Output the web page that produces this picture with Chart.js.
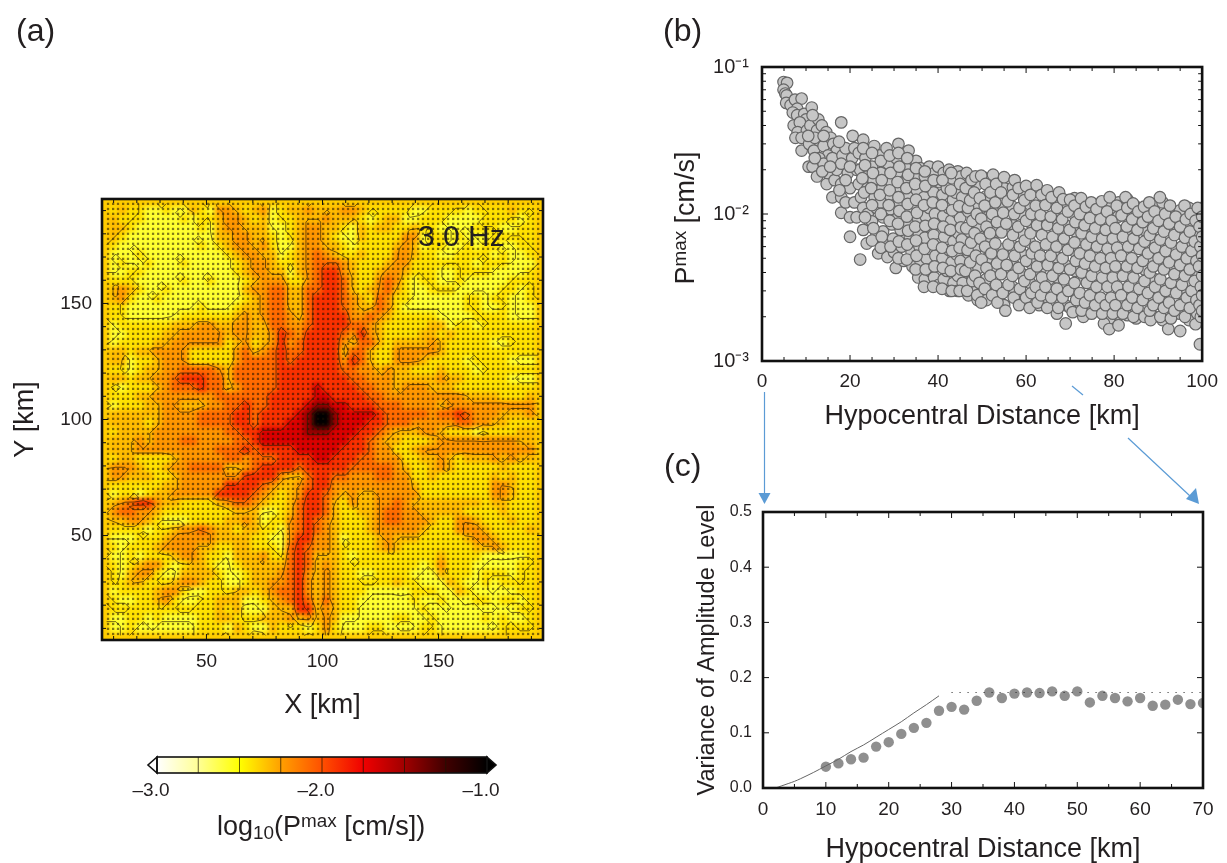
<!DOCTYPE html>
<html>
<head>
<meta charset="utf-8">
<script src="https://cdn.jsdelivr.net/npm/chart.js@4"></script>
<style>
  html, body { margin: 0; padding: 0; background: #fff; }
  body { width: 1227px; height: 863px; position: relative; overflow: hidden; font-family: "Liberation Sans", sans-serif; color: #231f20; }
  canvas { position: absolute; display: block; }
  .txt { position: absolute; white-space: nowrap; line-height: 1; }
  .txt sup { font-size: 70%; vertical-align: 0.42em; line-height: 0; }
  .txt sub { font-size: 70%; vertical-align: -0.2em; line-height: 0; }
  #heatWrap { position: absolute; left: 102px; top: 199px; width: 441px; height: 441px; overflow: hidden; background: #ffcc00; }
  #heatCanvas { left: 0; top: 0; filter: blur(2.5px); }
  #arrows { position: absolute; left: 0; top: 0; }
</style>
</head>
<body>
<div id="heatWrap"><canvas id="heatCanvas" width="441" height="441"></canvas></div>
<canvas id="mapCanvas" width="600" height="730" style="left:0;top:0"></canvas>
<canvas id="barCanvas" width="400" height="70" style="left:120px;top:740px"></canvas>
<canvas id="ampCanvas" width="577" height="440" style="left:650px;top:0"></canvas>
<canvas id="varCanvas" width="577" height="396" style="left:650px;top:470px"></canvas>

<svg id="arrows" width="1227" height="863">
  <g stroke="#5b9bd5" stroke-width="1.2" fill="none">
    <line x1="764.5" y1="392" x2="764.5" y2="494"/>
    <line x1="1072" y1="386" x2="1083" y2="395"/>
    <line x1="1128" y1="438" x2="1190" y2="496"/>
  </g>
  <g fill="#5b9bd5">
    <polygon points="758.5,493 770.5,493 764.5,504"/>
    <polygon points="1186,499 1196,488 1199,504"/>
  </g>
</svg>

<div class="txt" style="left:16px;top:14px;font-size:32px">(a)</div>
<div class="txt" style="left:663px;top:14px;font-size:32px">(b)</div>
<div class="txt" style="left:664px;top:449px;font-size:32px">(c)</div>
<div class="txt" style="left:418px;top:221px;font-size:30px">3.0 Hz</div>
<div class="txt" style="left:217px;top:813px;font-size:27px">log<sub>10</sub>(P<sup>max</sup> [cm/s])</div>
<div class="txt" id="pmaxTitle" style="left:685px;top:218px;font-size:27px;transform:translate(-50%,-50%) rotate(-90deg)">P<sup>max</sup> [cm/s]</div>

<script>
// panel (a): map levels, 48 x 48 cells, top row first
// digit = colour class, see levelLog10
const mapRows = [
  "23221121 13214432 34123343 33443222 22112222 12222322",
  "32221111 21223443 23122333 43332123 31122211 11222212",
  "33211111 11213443 33112344 33213233 22322111 12221122",
  "32111111 11113344 33212344 32113222 24412212 11122222",
  "21111111 11212344 34211344 33212222 34312211 21221122",
  "11121111 11111234 43312345 43223222 44322112 22212112",
  "12112111 21111123 44322345 55432223 44222222 21222111",
  "11221111 11111123 44331345 66432234 43222112 22211112",
  "22211111 21121112 34442245 66532245 42122112 11111222",
  "34321121 11111113 44553355 66532345 32112221 11112212",
  "34211211 11111112 34553356 66543254 22111111 22122112",
  "22111111 11211123 34553356 66543354 21111111 22112111",
  "22111111 22222234 34554356 66644543 22222111 12222111",
  "12222223 33443344 33554456 66655432 22223312 21222222",
  "11222233 44444344 33465466 66546432 22233232 22222222",
  "12222334 44444234 23464566 66435532 33334322 22211222",
  "33233444 42222245 34565566 66355322 44444322 22222222",
  "33122344 42222245 55565666 66465322 44432222 12222111",
  "22123344 55554355 55566666 66554434 33222322 21222222",
  "33233445 66655355 55566666 66655444 33333433 22222111",
  "21222345 55655345 55566667 66665544 34443332 22222222",
  "22233444 44445555 55666667 76666554 44444444 33332223",
  "12223344 33344556 55666678 87766655 54444344 44444444",
  "33333344 44555566 5666678a a8777765 55554556 54443334",
  "33332344 44555566 5666778a a8777665 55444445 54433222",
  "23333444 44444556 67777788 87776654 33344322 21222233",
  "33343444 55444455 67777777 77766543 32223444 44444433",
  "33344444 44445556 56666777 77666544 22344444 44444444",
  "23322223 44444554 55566667 76665544 42233432 33343433",
  "44432234 45555334 56666566 66655555 43223432 22223222",
  "44333223 44444446 66643356 65544455 44223222 22232322",
  "22222233 44444666 65433456 64444444 44322222 22244322",
  "12212334 44446666 54323466 54343344 44422222 22244322",
  "34566433 22223455 43223566 53243344 54333333 33233222",
  "45544322 22222233 31123566 53223345 54433333 22223222",
  "33443211 12222334 31224565 43222345 54443224 43222322",
  "22221223 44543323 32214565 43222344 44432224 44322223",
  "11122234 44443333 22114664 43122234 33322222 34432222",
  "21222344 44332233 22215654 43222234 32222222 23343222",
  "11212223 44322133 34225653 33212222 22222322 22111112",
  "21234421 23321123 33335653 43222222 22212422 21111122",
  "21344211 33332112 33345643 43221122 22111322 21222122",
  "22332223 44322112 33445643 43222222 32211132 11212222",
  "12222344 21122233 23455643 43222111 11222113 21111122",
  "21122342 11223331 12345653 53221111 11211211 12212212",
  "22222222 22223231 11333663 43221111 11121111 11111122",
  "11221211 11223322 23334343 43111111 22112111 11212112",
  "11211111 11222132 11322212 42111221 11122111 11112222"
];
const levelLog10 = [-2.8, -2.58, -2.42, -2.32, -2.22, -2.08, -1.9, -1.68, -1.47, -1.22, -1.0];
const contourLevels = [-2.5, -2.25, -2.0, -1.75, -1.5, -1.25];
const stationKm = [7.6,9.8,11.9,14.1,16.2,18.4,20.5,22.7,24.8,27,29.2,31.3,33.5,35.6,37.8,39.9,42.1,44.2,46.4,48.5,50.7,52.9,55,57.2,59.3,61.5,63.6,65.8,67.9,70.1,72.2,74.4,76.6,78.7,80.9,83,85.2,87.3,89.5,91.6,93.8,95.9,98.1,100.3,102.4,104.6,106.7,108.9,111,113.2,115.3,117.5,119.6,121.8,123.9,126.1,128.3,130.4,132.6,134.7,136.9,139,141.2,143.3,145.5,147.6,149.8,152,154.1,156.3,158.4,160.6,162.7,164.9,167,169.2,171.3,173.5,175.7,177.8,180,182.1,184.3,186.4,188.6,190.7,192.9];
const mapTicks = [50, 100, 150];
const mapMinorTicks = [10,20,30,40,60,70,80,90,110,120,130,140,160,170,180,190];

// colour bar
const barLabels = [-3, -2, -1];
const barDividers = [-2.75, -2.5, -2.25, -2, -1.75, -1.5, -1.25];
const colourStops = [
  [-3.0, [255,255,255]], [-2.75, [255,255,150]], [-2.5, [255,255,0]], [-2.25, [255,160,0]],
  [-2.0, [255,80,0]], [-1.75, [240,0,0]], [-1.5, [160,0,0]], [-1.25, [64,0,0]], [-1.0, [0,0,0]]
];

// panel (b): distance [km], Pmax [10^-3 cm/s]
const ampNear = [
  [4.9,79],[5.7,78],[4.9,70],[5.3,66],[5.6,64],[5.5,57],[6.5,55],[7.5,60],[9,61],[8,52],[7,49],[8,47],[7.2,40],[9.6,48],[10,44],
  [11.3,53],[8.6,42],[8.1,36],[7.6,33],[10.2,37],[9,33],[11,40],[12.5,37],[12.8,44],[13.6,40],[14.6,36],[13,31],[9,27],[10.7,30],
  [11.8,27],[12,33],[14,29],[15.6,33],[16.2,30],[18,42],[17,27],[15,25],[10.6,21],[11.5,21],[13,24],[14,22],[16,24],[18.3,25],
  [12.5,18],[14.7,16],[15,19],[16,13],[16.5,17],[17,20],[18,22],[19,28],[20.6,34],[19.5,19],[18,16],[18,13],[18,10.2],[20,9.5],
  [19,12],[20,15],[20.5,24],[21.5,20],[21,28],[21,12],[20,7],[21.5,9.5]
];
const ampMid = [
  [22,26],[22.3,20],[22,16],[22.5,13],[23,11],[22.3,4.9],[23,32],[23.8,6.3],[23.5,24],[23.8,18],[24,15],[24,10],[24.5,8.4],[25.5,29],
  [25,21],[25.3,17],[25.6,13],[26,11],[25,8.9],[26.4,5.4],[26,7.2],[26.8,25],[27,19],[27.3,15],[27,12],[27.5,9.5],[27.5,7.6],[28.3,28],
  [28.5,5.1],[28,6.4],[28.7,22],[29,17],[29,13.5],[29.2,10.8],[29.5,8.5],[29.8,6.8],[30.4,4.3],[30,5.5],[31,30],[30.5,24],[31,19.5],
  [31,15.5],[31.2,12],[31,9.6],[31.5,7.8],[31.7,6],[32.2,4.8],[33.3,27],[32.5,21],[33,17],[33,13.5],[33,10.8],[33.4,8.6],[33.6,7],
  [34,5.5],[34.2,4.4],[35,23],[35,18],[35.2,14.5],[35,11.5],[35.5,9.2],[35.6,7.4],[35.8,6],[35.5,3.7],[36,4.8],[36,20.5],
  [37,18],[36.8,13],[37.2,9.6],[37,6.9],[37.4,5],[37,3.6],[38,21],[38.3,15.5],[38,11],[38.4,8],[37.8,5.8],[38.2,4.1],[39.2,19],[39,14],
  [39.3,10],[39,7.2],[39.4,5.2],[39.1,3.7],[40,21],[40.3,16.5],[40,12],[40.4,8.6],[40.1,6.2],[40.4,4.5],[40.2,3.3],[41.3,19],[41,13.5],
  [41.2,9.7],[41.4,7],[41,5],[41.3,3.6],[42.5,20],[42,15],[42.4,11],[42.2,8],[42.5,5.7],[42,4.1],[42.6,3],[43.2,17.5],[43.4,12.5],[43,9],
  [43.5,6.5],[43.1,4.7],[43.5,3.4],[44.5,19.5],[44,14],[44.3,10.2],[44.6,7.4],[44.2,5.3],[44.5,3.8],[44.5,3],[45.2,18],[45.5,13],[45,9.4],
  [45.4,6.7],[45.1,4.8],[45.6,3.4]
];
const ampFar = [
  [46.5,19],[46.3,15],[46.8,11],[46.4,8],[46.7,5.7],[46.2,4.1],[46.6,3],[47.6,17],[47.3,12.4],[47.8,9],[47.5,6.4],[47.3,4.7],[47.8,3.5],
  [48.5,18],[48.2,14],[48.8,10],[48.3,7.4],[48.6,5.2],[48.4,3.8],[48.9,2.8],[49.8,18.2],[49.5,12.8],[49.8,9.3],[49.6,6.8],[49.9,4.9],[49.4,3.4],[49.8,2.5],
  [50.8,16],[50.6,11.4],[51,8.2],[50.7,6],[51,4.3],[50.6,3.1],[52.5,18.5],[51.9,14],[52.3,10],[51.8,7.4],[52.1,5.4],[51.9,3.8],[52.3,2.8],
  [53.2,16],[53,12],[53.4,8.8],[53,6.3],[53.4,4.6],[53.2,3.3],[53.5,2.5],[55,17.8],[54.3,14],[54.8,10.2],[54.4,7.5],[54.7,5.3],[54.3,3.9],[54.7,2.9],
  [55.3,2.2],[55.8,12.2],[55.5,8.6],[56,6.2],[55.6,4.5],[56,3.3],[57.4,17],[57,13.5],[57.3,10],[57,7.2],[57.4,5.2],[56.9,3.8],[57.2,2.7],
  [58.3,15],[58.5,11],[58.2,8.2],[58.6,6],[58.3,4.3],[58.6,3.1],[58.4,2.4],[60,15.5],[59.6,12.4],[60,9],[59.7,6.6],[60,4.8],[59.6,3.5],[60,2.7],
  [60.8,2.3],[61,13.5],[61.2,10],[61,7.4],[61.3,5.4],[60.9,3.9],[61.2,2.9],[62.4,15.7],[62.2,11.4],[62.5,8.4],[62.1,6],[62.5,4.4],[62.2,3.2],[62.6,2.5],
  [63.5,13.5],[63.3,9.8],[63.6,7.2],[63.2,5.2],[63.6,3.7],[63.4,2.8],[64.8,14.5],[64.4,11.5],[64.8,8.4],[64.5,6.2],[64.9,4.5],[64.4,3.2],[64.8,2.3],
  [65.8,13],[65.6,9.6],[66,7],[65.6,5.2],[66,3.8],[65.7,2.7],[67.5,14],[67,11],[67.3,8],[66.9,6],[67.4,4.3],[67,3.1],[67.3,2.3],
  [68.4,12.6],[68.2,9.2],[68.6,6.8],[68.3,5],[68.6,3.6],[68.3,2.7],[69,1.8],[70,12.5],[69.5,10.4],[69.9,7.8],[69.5,5.7],[70,4.2],[69.6,3],[70,2.3],
  [70.6,2.15],[71,11.4],[71.2,8.8],[71,6.4],[71.3,4.8],[71,3.4],[71.4,2.6],[72.5,12.8],[72.2,10],[72.6,7.4],[72.2,5.4],[72.6,4],[72.2,2.9],[72.6,2.2],
  [73.6,11.2],[73.3,8.4],[73.7,6.2],[73.4,4.6],[73.8,3.4],[73.4,2.5],[74.8,12],[74.5,9.4],[74.9,7],[74.5,5.2],[74.9,3.8],[74.5,2.8],[74.9,2.1],
  [76,10.8],[75.7,8],[76.1,6],[75.7,4.4],[76,3.2],[75.7,2.4],[77.2,12.2],[76.9,9.2],[77.3,6.8],[76.9,5],[77.3,3.7],[76.9,2.7],[77.7,1.8],[77.3,2.1],
  [78.4,10.4],[78.1,7.8],[78.5,5.8],[78.1,4.3],[78.5,3.2],[78.1,2.4],[79,13],[79.4,9],[79.7,6.8],[79.3,5],[79.7,3.7],[79.3,2.7],[78.9,1.65],[79.7,2.1],
  [80.6,11.4],[80.3,8],[80.7,5.9],[80.3,4.4],[80.7,3.2],[80.3,2.4],[81,1.75],[82.6,13],[81.7,9.8],[82,7],[81.6,5.2],[82,3.8],[81.6,2.8],[82,2.1],
  [83,11],[82.9,8.2],[83.2,6],[82.9,4.4],[83.3,3.2],[83,2.4],[84.3,11.8],[84.1,9.2],[84.4,6.8],[84,5],[84.4,3.7],[84.1,2.7],[84.4,2],
  [85.5,10.4],[85.3,7.8],[85.7,5.8],[85.3,4.3],[85.7,3.1],[85.3,2.3],[86.8,11.2],[86.5,8.8],[86.9,6.5],[86.5,4.8],[86.9,3.5],[86.5,2.6],[86.9,2],
  [88,12],[87.7,9.6],[88.1,7.2],[87.7,5.4],[88.1,4],[87.7,2.9],[88.3,1.9],[88.1,2.2],[89.2,10.4],[88.9,8],[89.3,5.9],[88.9,4.4],[89.3,3.2],[88.9,2.4],
  [90.4,13],[90.1,9],[90.5,6.7],[90.1,5],[90.5,3.6],[90.1,2.7],[90.5,2],[91.6,10],[91.3,7.6],[91.7,5.6],[91.3,4.2],[91.7,3],[91.3,2.3],[92.3,1.65],
  [92.7,11.4],[92.5,8.6],[92.9,6.4],[92.5,4.7],[92.9,3.4],[92.5,2.5],[92.9,1.95],[94,9.6],[93.7,7.2],[94.1,5.3],[93.7,3.9],[94.1,2.9],[93.7,2.2],
  [96,11.4],[95,8.2],[95.4,6],[95,4.5],[95.4,3.3],[95,2.4],[95,1.6],[96.3,9.2],[96.1,6.9],[96.5,5],[96.1,3.8],[96.5,2.7],[96.1,2],
  [97.4,10],[97.2,7.6],[97.6,5.6],[97.2,4.2],[97.6,3],[97.2,2.3],[98.5,9],[98.3,6.5],[98.7,4.8],[98.3,3.5],[98.7,2.6],[98.5,1.78],
  [99,11],[99.4,8.2],[99.6,6],[99.3,4.4],[99.7,3.2],[99.4,2.4],[99.7,2],[99.5,1.3],[100,9.6],[100,7],[100,5.2],[100,3.8],[100,2.8],[100,2.2]
];
const ampDense = [
  [10.5,34],[12,24],[13.7,19.5],[15.5,21],[17.6,14.5],[19,17],[20,21],[17.5,31],[14,34],[11.5,47],
  [23,28],[23.4,21.5],[22.8,17.5],[23.2,14],[23.4,9.5],[23,7.8],[25,26],[25.2,19],[24.8,15],[25,11.5],[25.3,8],[25,6.6],
  [27,23],[27.2,17],[26.8,13.5],[27,10],[27.2,7],[27,5.9],[29,25],[29.2,19],[29,14.5],[28.8,11.5],[29,9],[29.2,6],
  [31,26],[31.2,21],[30.8,16.5],[31,13],[31.2,10.5],[30.9,8.6],[31.1,6.5],[31,5],[33,24],[33.2,18.5],[32.8,15],[33.1,11.7],[32.9,9.6],[33.2,7.7],[33,6.2],[32.9,4.9],
  [35,20.5],[34.8,16],[35,12.5],[35.2,10.2],[34.8,8.2],[35,6.6],[35.1,5.2],[34.9,4.2],[37,19.5],[37.1,15.5],[36.8,11.5],[37.1,8.3],[36.9,5.8],[37.2,4.2],[36.8,3.2],
  [39,17],[38.8,12],[39.1,8.6],[38.9,6.2],[39.2,4.4],[38.9,3.2],[41,17],[40.9,11.5],[41.2,8.2],[40.9,5.9],[41.1,4.3],[40.9,3.1],
  [43,19],[42.9,14.5],[43.2,10.6],[42.8,7.8],[43.2,5.6],[42.9,4.1],[43.1,3],[45,16],[44.8,11.3],[45.2,8.1],[44.9,5.9],[45.2,4.2],[44.9,3],
  [47,15],[46.9,10.4],[47.2,7.6],[46.9,5.4],[47.2,4],[46.9,2.8],[49,16],[48.9,11.2],[49.2,8.2],[48.9,6],[49.2,4.3],[48.9,3.1],[49,2.6],
  [51,17.5],[50.9,13.2],[51.2,9.5],[50.9,6.9],[51.2,5],[50.9,3.6],[51,2.6],[53,14.5],[52.9,10.8],[53.2,7.6],[52.9,5.6],[53.2,4.1],[52.9,2.9],
  [55,15],[54.9,11],[55.2,8],[54.9,5.8],[55.2,4.2],[54.9,3.1],[55,2.4],[57,15.2],[56.9,11.2],[57.2,8.4],[56.9,6.1],[57.2,4.5],[56.9,3.2],
  [59,14],[58.9,10],[59.2,7.3],[58.9,5.4],[59.2,3.9],[58.9,2.8],[61,14.8],[60.9,11.6],[61.2,8.6],[60.9,6.4],[61.2,4.6],[60.9,3.4],[61,2.5],
  [63,14.5],[62.9,10.6],[63.2,7.8],[62.9,5.7],[63.2,4.1],[62.9,3],[63,2.4],[65,12.8],[64.9,9.2],[65.2,6.8],[64.9,5],[65.2,3.6],[64.9,2.7],
  [67,12.4],[66.9,9.4],[67.2,7],[66.9,5.1],[67.2,3.7],[66.9,2.7],[67,2.1],[69,11.4],[68.9,8.4],[69.2,6.2],[68.9,4.5],[69.2,3.3],[68.9,2.4],
  [71,12.8],[70.9,10],[71.2,7.6],[70.9,5.6],[71.2,4.1],[70.9,3],[71,2.3],[73,11.6],[72.9,9],[73.2,6.6],[72.9,4.9],[73.2,3.6],[72.9,2.6],[73,2],
  [75,10.6],[74.9,8.2],[75.2,6],[74.9,4.4],[75.2,3.2],[74.9,2.4],[77,11],[76.9,8.4],[77.2,6.2],[76.9,4.6],[77.2,3.4],[76.9,2.4],
  [79,11.6],[78.9,8.8],[79.2,6.4],[78.9,4.7],[79.2,3.5],[78.9,2.5],[79,1.95],[81,12],[80.9,9.6],[81.2,7.2],[80.9,5.3],[81.2,3.9],[80.9,2.8],[81,2.05],
  [83,12.6],[82.9,9.6],[83.2,7],[82.9,5.2],[83.2,3.8],[82.9,2.8],[83,2.05],[85,11.2],[84.9,8.6],[85.2,6.4],[84.9,4.7],[85.2,3.4],[84.9,2.5],[85,1.95],
  [87,10],[86.9,7.8],[87.2,5.7],[86.9,4.2],[87.2,3.1],[86.9,2.3],[89,11.6],[88.9,9],[89.2,6.7],[88.9,5],[89.2,3.6],[88.9,2.7],[89,2],
  [91,12],[90.9,8.4],[91.2,6.2],[90.9,4.6],[91.2,3.3],[90.9,2.5],[91,1.9],[93,10.2],[92.9,7.8],[93.2,5.8],[92.9,4.3],[93.2,3.1],[92.9,2.3],
  [95,10.6],[94.9,7.4],[95.2,5.4],[94.9,3.9],[95.2,2.9],[94.9,2.1],[97,11],[96.9,8.6],[97.2,6.2],[96.9,4.6],[97.2,3.4],[96.9,2.5],[97,1.9],
  [99,9.6],[98.9,7.2],[99.2,5.3],[98.9,3.9],[99.2,2.9],[98.9,2.1],[100,11],[100,8.2],[100,6],[100,4.4],[100,3.2],[100,2.4],[100,1.9]
];
const ampXTicks = [0, 20, 40, 60, 80, 100];
const ampXMinor = [5,10,15,25,30,35,45,50,55,65,70,75,85,90,95];
const ampYTicks = [0.001, 0.01, 0.1];
const ampYMinor = [0.002,0.003,0.004,0.005,0.006,0.007,0.008,0.009,0.02,0.03,0.04,0.05,0.06,0.07,0.08,0.09];
const ampYLabels = { 0.001: "10\u207B\u00B3", 0.01: "10\u207B\u00B2", 0.1: "10\u207B\u00B9" };

// panel (c)
const varDist = [10,12,14,16,18,20,22,24,26,28,30,32,34,36,38,40,42,44,46,48,50,52,54,56,58,60,62,64,66,68,70];
const varValue = [0.0386,0.0446,0.052,0.055,0.075,0.083,0.098,0.109,0.118,0.14,0.147,0.142,0.158,0.173,0.163,0.171,0.173,0.172,0.175,0.167,0.175,0.155,0.167,0.163,0.157,0.163,0.149,0.151,0.16,0.152,0.154];
const modelDist = [2,3,4,5,6,8,10,12,14,16,18,20,22,24,26,28];
const modelValue = [0,0.004,0.008,0.012,0.017,0.028,0.04,0.052,0.066,0.078,0.092,0.106,0.12,0.136,0.151,0.167];
const plateauDist = [30, 70];
const plateauValue = [0.173, 0.173];
const varXTicks = [0,10,20,30,40,50,60,70];
const varXMinor = [5,15,25,35,45,55,65];
const varYTicks = [0,0.1,0.2,0.3,0.4,0.5];

Chart.defaults.font.family = '"Liberation Sans", sans-serif';
Chart.defaults.color = '#231f20';
Chart.defaults.animation = false;

const axisTitle = (text, size) => ({ display: true, text: text, padding: 0, color: '#231f20', font: { size: size, lineHeight: 1.2 } });
const noGrid = { display: false, drawTicks: false };

// fixed ticks so the labels land only where the picture has them
const useTicks = list => scale => { scale.ticks = list.map(v => ({ value: v })); };

function pairs(xs, ys) { return xs.map((x, i) => ({ x: x, y: ys[i] })); }

function colourOf(v) {
  for (let i = 1; i < colourStops.length; i++) {
    if (v <= colourStops[i][0]) {
      const a = colourStops[i - 1], b = colourStops[i];
      const t = (v - a[0]) / (b[0] - a[0]);
      const c = a[1].map((n, k) => Math.round(n + (b[1][k] - n) * t));
      return 'rgb(' + c.join(',') + ')';
    }
  }
  return '#000';
}

// frame and inward ticks on all four sides
const frameTicks = {
  id: 'frameTicks',
  afterDatasetsDraw(chart, args, o) {
    const { ctx, chartArea: a, scales } = chart;
    ctx.save();
    ctx.strokeStyle = '#111';
    const xMark = (list, len) => list.forEach(v => {
      const p = scales.x.getPixelForValue(v);
      ctx.beginPath();
      ctx.moveTo(p, a.bottom); ctx.lineTo(p, a.bottom - len);
      ctx.moveTo(p, a.top); ctx.lineTo(p, a.top + len);
      ctx.stroke();
    });
    const yMark = (list, len) => list.forEach(v => {
      const p = scales.y.getPixelForValue(v);
      ctx.beginPath();
      ctx.moveTo(a.left, p); ctx.lineTo(a.left + len, p);
      ctx.moveTo(a.right, p); ctx.lineTo(a.right - len, p);
      ctx.stroke();
    });
    ctx.lineWidth = 1;
    xMark(o.xMajor || [], 6); xMark(o.xMinor || [], 4);
    yMark(o.yMajor || [], 6); yMark(o.yMinor || [], 4);
    ctx.lineWidth = 2.6;
    ctx.strokeRect(a.left, a.top, a.right - a.left, a.bottom - a.top);
    ctx.restore();
  }
};

// --- panel (a) ---
const grid = mapRows.map(r => r.replace(/ /g, '').split('').map(ch => levelLog10[parseInt(ch, 16)]));
const nCols = grid[0].length, nRows = grid.length;
const cellX = c => 5 + (c + 0.5) * 190 / nCols;
const cellY = r => 195 - (r + 0.5) * 190 / nRows;

const heatCells = [];
const heatColours = [];
grid.forEach((row, r) => row.forEach((v, c) => {
  heatCells.push({ x: cellX(c), y: cellY(r) });
  heatColours.push(colourOf(v));
}));

new Chart(document.getElementById('heatCanvas'), {
  type: 'scatter',
  data: { datasets: [{ data: heatCells, pointStyle: 'rect', pointRadius: 7.6, borderWidth: 0, backgroundColor: heatColours }] },
  options: {
    responsive: false,
    plugins: { legend: { display: false }, tooltip: { enabled: false } },
    scales: {
      x: { display: false, min: 5, max: 195 },
      y: { display: false, min: 5, max: 195 }
    }
  }
});

// contour segments traced over the level grid (marching squares)
function contourSegments(level) {
  const out = [];
  const gap = { x: NaN, y: NaN };
  const cross = (c1, r1, c2, r2) => {
    const a = grid[r1][c1], b = grid[r2][c2];
    const t = (level - a) / (b - a);
    return { x: cellX(c1 + (c2 - c1) * t), y: cellY(r1 + (r2 - r1) * t) };
  };
  for (let r = 0; r < nRows - 1; r++) {
    for (let c = 0; c < nCols - 1; c++) {
      const hits = [];
      const tl = grid[r][c], tr = grid[r][c + 1], br = grid[r + 1][c + 1], bl = grid[r + 1][c];
      if ((tl < level) !== (tr < level)) hits.push(cross(c, r, c + 1, r));
      if ((tr < level) !== (br < level)) hits.push(cross(c + 1, r, c + 1, r + 1));
      if ((bl < level) !== (br < level)) hits.push(cross(c, r + 1, c + 1, r + 1));
      if ((tl < level) !== (bl < level)) hits.push(cross(c, r, c, r + 1));
      for (let i = 0; i + 1 < hits.length; i += 2) out.push(hits[i], hits[i + 1], gap);
    }
  }
  return out;
}

const stations = [];
stationKm.forEach(y => stationKm.forEach(x => stations.push({ x: x, y: y })));

new Chart(document.getElementById('mapCanvas'), {
  type: 'scatter',
  data: {
    datasets: contourLevels.map(l => ({
      data: contourSegments(l),
      showLine: true,
      spanGaps: false,
      pointRadius: 0,
      borderColor: 'rgba(45,30,0,0.72)',
      borderWidth: 0.9,
      borderDash: [100, 0] // keeps chart.js off its x-sorted fast path
    })).concat([{
      data: stations,
      pointStyle: 'rect',
      pointRadius: 1.6,
      borderWidth: 0,
      backgroundColor: 'rgba(25,15,0,0.55)'
    }])
  },
  plugins: [frameTicks],
  options: {
    responsive: false,
    layout: { padding: { left: 9, top: 199, right: 57, bottom: 8 } },
    plugins: {
      legend: { display: false }, tooltip: { enabled: false },
      frameTicks: { xMajor: mapTicks, xMinor: mapMinorTicks, yMajor: mapTicks, yMinor: mapMinorTicks }
    },
    scales: {
      x: {
        type: 'linear', min: 5, max: 195,
        afterBuildTicks: useTicks(mapTicks), afterFit: s => { s.height = 82; },
        grid: noGrid, border: { display: false },
        ticks: { font: { size: 19 }, padding: 10, maxRotation: 0, autoSkip: false },
        title: axisTitle('X [km]', 27)
      },
      y: {
        type: 'linear', min: 5, max: 195,
        afterBuildTicks: useTicks(mapTicks), afterFit: s => { s.width = 93; },
        grid: noGrid, border: { display: false },
        ticks: { font: { size: 19 }, padding: 10, autoSkip: false },
        title: axisTitle('Y [km]', 27)
      }
    }
  }
});

// --- colour bar ---
const barEnds = {
  id: 'barEnds',
  afterDatasetsDraw(chart) {
    const { ctx, chartArea: a, scales } = chart;
    const mid = (a.top + a.bottom) / 2;
    ctx.save();
    ctx.lineWidth = 1.6;
    ctx.strokeStyle = '#111';
    ctx.fillStyle = '#fff';
    ctx.beginPath();
    ctx.moveTo(a.left, a.top); ctx.lineTo(a.left - 9, mid); ctx.lineTo(a.left, a.bottom); ctx.closePath();
    ctx.fill(); ctx.stroke();
    ctx.fillStyle = '#000';
    ctx.beginPath();
    ctx.moveTo(a.right, a.top); ctx.lineTo(a.right + 9, mid); ctx.lineTo(a.right, a.bottom); ctx.closePath();
    ctx.fill(); ctx.stroke();
    ctx.strokeStyle = 'rgba(30,20,0,0.7)';
    ctx.lineWidth = 1;
    barDividers.forEach(v => {
      const p = scales.x.getPixelForValue(v);
      ctx.beginPath(); ctx.moveTo(p, a.top); ctx.lineTo(p, a.bottom); ctx.stroke();
    });
    ctx.strokeStyle = '#111';
    ctx.lineWidth = 1.6;
    ctx.strokeRect(a.left, a.top, a.right - a.left, a.bottom - a.top);
    ctx.restore();
  }
};

new Chart(document.getElementById('barCanvas'), {
  type: 'bar',
  data: {
    labels: ['level'],
    datasets: [{
      data: [[barLabels[0], barLabels[2]]],
      barPercentage: 1,
      categoryPercentage: 1,
      backgroundColor: c => {
        const area = c.chart.chartArea;
        if (!area) return '#ff0';
        const g = c.chart.ctx.createLinearGradient(area.left, 0, area.right, 0);
        colourStops.forEach(s => g.addColorStop((s[0] + 3) / 2, 'rgb(' + s[1].join(',') + ')'));
        return g;
      }
    }]
  },
  plugins: [barEnds],
  options: {
    indexAxis: 'y',
    responsive: false,
    layout: { padding: { left: 37, top: 17, right: 33, bottom: 0 } },
    plugins: { legend: { display: false }, tooltip: { enabled: false } },
    scales: {
      x: {
        type: 'linear', min: -3, max: -1,
        afterBuildTicks: useTicks(barLabels), afterFit: s => { s.height = 37; },
        grid: noGrid, border: { display: false },
        ticks: { font: { size: 19 }, padding: 6, labelOffset: -6, maxRotation: 0, autoSkip: false, callback: v => '\u2013' + Math.abs(v).toFixed(1) }
      },
      y: { display: false }
    }
  }
});

// --- panel (b) ---
const ampPoints = ampNear.concat(ampMid, ampDense, ampFar).map(p => ({ x: p[0], y: p[1] / 1000 }));

new Chart(document.getElementById('ampCanvas'), {
  type: 'scatter',
  data: {
    datasets: [{
      data: ampPoints,
      pointRadius: 5.8,
      borderWidth: 1.2,
      borderColor: '#666',
      backgroundColor: '#c6c6c6'
    }]
  },
  plugins: [frameTicks],
  options: {
    responsive: false,
    layout: { padding: { left: 62, top: 67, right: 24, bottom: 7 } },
    plugins: {
      legend: { display: false }, tooltip: { enabled: false },
      frameTicks: { xMajor: ampXTicks, xMinor: ampXMinor, yMajor: ampYTicks, yMinor: ampYMinor }
    },
    scales: {
      x: {
        type: 'linear', min: 0, max: 100,
        afterBuildTicks: useTicks(ampXTicks), afterFit: s => { s.height = 72; },
        grid: noGrid, border: { display: false },
        ticks: { font: { size: 19 }, padding: 9, maxRotation: 0, autoSkip: false },
        title: axisTitle('Hypocentral Distance [km]', 27)
      },
      y: {
        type: 'logarithmic', min: 0.001, max: 0.1,
        afterBuildTicks: useTicks(ampYTicks), afterFit: s => { s.width = 50; },
        grid: noGrid, border: { display: false },
        ticks: { font: { size: 20 }, padding: 13, autoSkip: false, callback: v => ampYLabels[v] }
      }
    }
  }
});

// --- panel (c) ---
new Chart(document.getElementById('varCanvas'), {
  type: 'scatter',
  data: {
    datasets: [
      {
        data: pairs(modelDist, modelValue),
        showLine: true, pointRadius: 0, borderColor: '#666', borderWidth: 1, tension: 0.3
      },
      {
        data: pairs(plateauDist, plateauValue),
        showLine: true, pointRadius: 0, borderColor: '#222', borderWidth: 1, borderDash: [1, 7]
      },
      {
        data: pairs(varDist, varValue),
        pointRadius: 5.2, borderWidth: 0, backgroundColor: '#8f8f8f'
      }
    ]
  },
  plugins: [frameTicks],
  options: {
    responsive: false,
    layout: { padding: { left: 43, top: 42, right: 24, bottom: 0 } },
    plugins: {
      legend: { display: false }, tooltip: { enabled: false },
      frameTicks: { xMajor: varXTicks, xMinor: varXMinor, yMajor: varYTicks }
    },
    scales: {
      x: {
        type: 'linear', min: 0, max: 70,
        afterBuildTicks: useTicks(varXTicks), afterFit: s => { s.height = 78; },
        grid: noGrid, border: { display: false },
        ticks: { font: { size: 19 }, padding: 10, maxRotation: 0, autoSkip: false },
        title: axisTitle('Hypocentral Distance [km]', 27)
      },
      y: {
        type: 'linear', min: 0, max: 0.5,
        afterBuildTicks: useTicks(varYTicks), afterFit: s => { s.width = 70; },
        grid: noGrid, border: { display: false },
        ticks: { font: { size: 16 }, padding: 11, autoSkip: false, callback: v => v.toFixed(1) },
        title: axisTitle('Variance of Amplitude Level', 23.5)
      }
    }
  }
});
</script>
</body>
</html>
